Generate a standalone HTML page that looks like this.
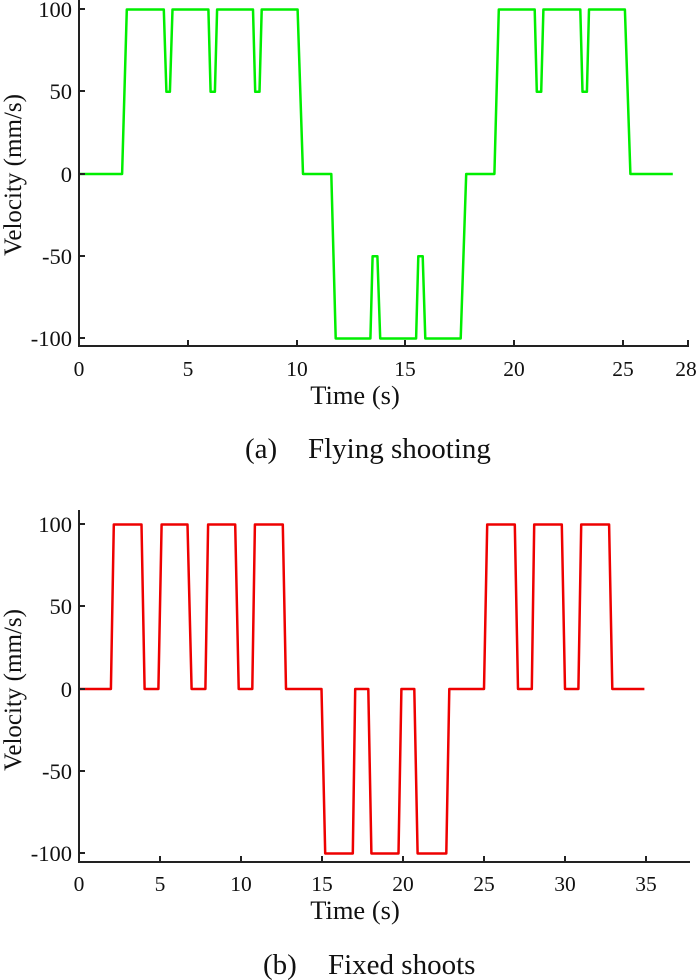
<!DOCTYPE html>
<html><head><meta charset="utf-8"><style>
html,body{margin:0;padding:0;background:#fff}
svg{display:block}
text{font-family:"Liberation Serif",serif;fill:#111}
</style></head><body>
<svg id="s" width="700" height="980" viewBox="0 0 700 980" xmlns="http://www.w3.org/2000/svg">
<g id="top">
<path id="p1" fill="none" stroke="#00ee00" stroke-width="2.5" stroke-linejoin="round"/>
<path d="M79,0 V346 H689" fill="none" stroke="#222" stroke-width="2"/>
<g stroke="#222" stroke-width="2">
<line x1="79" y1="9" x2="85" y2="9"/><line x1="79" y1="91" x2="85" y2="91"/><line x1="79" y1="174" x2="85" y2="174"/><line x1="79" y1="256" x2="85" y2="256"/><line x1="79" y1="338" x2="85" y2="338"/>
<line x1="188" y1="346" x2="188" y2="340"/><line x1="297" y1="346" x2="297" y2="340"/><line x1="405" y1="346" x2="405" y2="340"/><line x1="514" y1="346" x2="514" y2="340"/><line x1="623" y1="346" x2="623" y2="340"/><line x1="688" y1="346" x2="688" y2="340"/>
</g>
<g font-size="22.5" text-anchor="end">
<text x="72" y="17">100</text><text x="72" y="99">50</text><text x="72" y="182">0</text><text x="72" y="264">-50</text><text x="72" y="346">-100</text>
</g>
<g font-size="21.5" text-anchor="middle">
<text x="79" y="376">0</text><text x="188" y="376">5</text><text x="297" y="376">10</text><text x="405" y="376">15</text><text x="514" y="376">20</text><text x="623" y="376">25</text><text x="686" y="376">28</text>
</g>
<text x="355" y="404" font-size="26.5" text-anchor="middle">Time (s)</text>
<text transform="translate(21,175) rotate(-90)" font-size="25" text-anchor="middle">Velocity (mm/s)</text>
<text x="245" y="458" font-size="29">(a)</text><text x="308" y="458" font-size="29">Flying shooting</text>
</g>
<g id="bot">
<path id="p2" fill="none" stroke="#ee0000" stroke-width="2.5" stroke-linejoin="round"/>
<path d="M79,510 V862 H690" fill="none" stroke="#222" stroke-width="2"/>
<g stroke="#222" stroke-width="2">
<line x1="79" y1="524" x2="85" y2="524"/><line x1="79" y1="606" x2="85" y2="606"/><line x1="79" y1="689" x2="85" y2="689"/><line x1="79" y1="771" x2="85" y2="771"/><line x1="79" y1="853" x2="85" y2="853"/>
<line x1="160" y1="862" x2="160" y2="856"/><line x1="241" y1="862" x2="241" y2="856"/><line x1="322" y1="862" x2="322" y2="856"/><line x1="403" y1="862" x2="403" y2="856"/><line x1="484" y1="862" x2="484" y2="856"/><line x1="565" y1="862" x2="565" y2="856"/><line x1="646" y1="862" x2="646" y2="856"/>
</g>
<g font-size="22.5" text-anchor="end">
<text x="72" y="532">100</text><text x="72" y="614">50</text><text x="72" y="697">0</text><text x="72" y="779">-50</text><text x="72" y="861">-100</text>
</g>
<g font-size="21.5" text-anchor="middle">
<text x="79" y="891">0</text><text x="160" y="891">5</text><text x="241" y="891">10</text><text x="322" y="891">15</text><text x="403" y="891">20</text><text x="484" y="891">25</text><text x="565" y="891">30</text><text x="646" y="891">35</text>
</g>
<text x="355" y="919" font-size="26.5" text-anchor="middle">Time (s)</text>
<text transform="translate(21,690) rotate(-90)" font-size="25" text-anchor="middle">Velocity (mm/s)</text>
<text x="263" y="974" font-size="29">(b)</text><text x="328" y="974" font-size="29">Fixed shoots</text>
</g>
</svg>
<script>
var a=[[0,0],[1.98,0],[2.2,100],[3.9,100],[4.02,50],[4.18,50],[4.3,100],[5.95,100],[6.05,50],[6.25,50],[6.35,100],[8.0,100],[8.1,50],[8.3,50],[8.4,100],[10.05,100],[10.3,0],[11.6,0],[11.8,-100],[13.4,-100],[13.5,-50],[13.72,-50],[13.85,-100],[15.5,-100],[15.6,-50],[15.8,-50],[15.92,-100],[17.55,-100],[17.8,0],[19.1,0],[19.3,100],[20.95,100],[21.05,50],[21.25,50],[21.35,100],[23.05,100],[23.15,50],[23.35,50],[23.45,100],[25.1,100],[25.35,0],[27.3,0]];
var b=[[0,0],[1.97,0],[2.15,100],[3.86,100],[4.05,0],[4.9,0],[5.1,100],[6.7,100],[6.95,0],[7.8,0],[7.97,100],[9.64,100],[9.86,0],[10.7,0],[10.86,100],[12.58,100],[12.78,0],[14.97,0],[15.2,-100],[16.9,-100],[17.05,0],[17.86,0],[18.05,-100],[19.72,-100],[19.9,0],[20.7,0],[20.9,-100],[22.67,-100],[22.86,0],[25.0,0],[25.2,100],[26.9,100],[27.1,0],[27.95,0],[28.1,100],[29.8,100],[30.0,0],[30.83,0],[31.0,100],[32.72,100],[32.92,0],[34.9,0]];
function mk(p,x0,sx,y0){return p.map(function(q,i){return (i?'L':'M')+(x0+sx*q[0]).toFixed(1)+','+(y0-1.645*q[1]).toFixed(1)}).join(' ');}
document.getElementById('p1').setAttribute('d',mk(a,79,21.75,174));
document.getElementById('p2').setAttribute('d',mk(b,79,16.2,689));
</script>
</body></html>
